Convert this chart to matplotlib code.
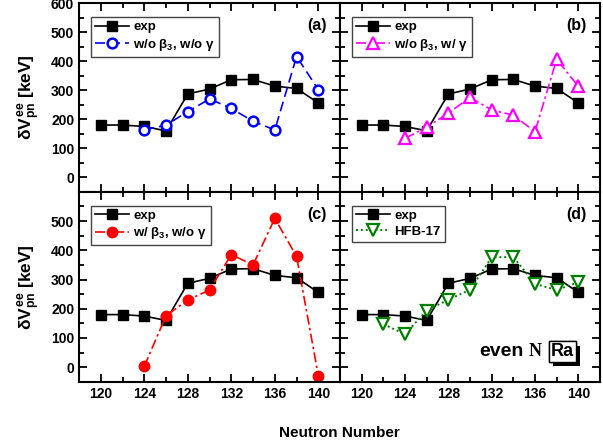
import numpy as np
import matplotlib
matplotlib.use('Agg')
import matplotlib.pyplot as plt
import matplotlib.patheffects as pe
from matplotlib.ticker import MultipleLocator

plt.rcParams['font.family'] = 'Liberation Sans'
plt.rcParams['font.weight'] = 'bold'
plt.rcParams['mathtext.fontset'] = 'custom'
plt.rcParams['mathtext.rm'] = 'Liberation Sans:bold'
plt.rcParams['mathtext.it'] = 'Liberation Sans:bold'
plt.rcParams['mathtext.bf'] = 'Liberation Sans:bold'

# neutron numbers
N_exp = [120, 122, 124, 126, 128, 130, 132, 134, 136, 138, 140]
exp = [180, 180, 175, 160, 287, 304, 336, 337, 314, 306, 256]

N_th = [124, 126, 128, 130, 132, 134, 136, 138, 140]
no_b3_no_g = [163, 180, 226, 270, 237, 193, 163, 416, 302]
no_b3_g = [134, 173, 221, 275, 232, 214, 157, 407, 313]
b3_no_g = [3, 176, 230, 264, 385, 350, 509, 379, -29]

N_hfb = [122, 124, 126, 128, 130, 132, 134, 136, 138, 140]
hfb17 = [147, 113, 194, 231, 265, 376, 377, 285, 264, 291]

fig = plt.figure(figsize=(6.03, 4.44), dpi=100)
L, M, R = 0.131, 0.564, 0.995
B, C, T = 0.140, 0.568, 0.993
axa = fig.add_axes([L, C, M - L, T - C])
axb = fig.add_axes([M, C, R - M, T - C])
axc = fig.add_axes([L, B, M - L, C - B])
axd = fig.add_axes([M, B, R - M, C - B])

ms = 7.5
exp_kw = dict(color='k', marker='s', ms=ms, lw=1.2, label='exp')

axa.plot(N_exp, exp, **exp_kw)
axa.plot(N_th, no_b3_no_g, color='blue', ls=(0, (6, 3)), lw=1.2, marker='o', ms=7,
         mfc='white', mec='blue', mew=1.8, label=r'w/o $\beta_3$, w/o $\gamma$')

axb.plot(N_exp, exp, **exp_kw)
axb.plot(N_th, no_b3_g, color='magenta', ls=(0, (6, 2, 1.5, 2)), lw=1.2, marker='^', ms=8,
         mfc='white', mec='magenta', mew=1.6, label=r'w/o $\beta_3$, w/ $\gamma$')

axc.plot(N_exp, exp, **exp_kw)
axc.plot(N_th, b3_no_g, color='red', ls=(0, (6, 2, 1.5, 2)), lw=1.2, marker='o', ms=7.5,
         mfc='red', mec='red', label=r'w/ $\beta_3$, w/o $\gamma$')

axd.plot(N_exp, exp, **exp_kw)
axd.plot(N_hfb, hfb17, color='green', ls=(0, (1, 1.5)), lw=1.4, marker='v', ms=8,
         mfc='white', mec='green', mew=1.6, label='HFB-17')

for ax, lab in zip([axa, axb, axc, axd], ['(a)', '(b)', '(c)', '(d)']):
    ax.set_xlim(118, 142)
    ax.set_ylim(-50, 600)
    ax.xaxis.set_major_locator(MultipleLocator(4))
    ax.xaxis.set_minor_locator(MultipleLocator(2))
    ax.yaxis.set_major_locator(MultipleLocator(100))
    ax.yaxis.set_minor_locator(MultipleLocator(50))
    ax.tick_params(which='both', direction='in', top=True, right=True, width=1.3,
                   labelsize=10)
    ax.tick_params(which='major', length=6)
    ax.tick_params(which='minor', length=3.5)
    for s in ax.spines.values():
        s.set_linewidth(1.5)
    ax.text(0.95, 0.92, lab, transform=ax.transAxes, ha='right', va='top',
            fontsize=11.5, fontweight='bold')
    leg = ax.legend(loc='upper left', bbox_to_anchor=(0.046, 0.926), fontsize=9.5,
                    handlelength=2.6, handletextpad=0.3, borderpad=0.3,
                    labelspacing=0.25, fancybox=False, framealpha=1,
                    edgecolor='#444444', borderaxespad=0)
    leg.get_frame().set_linewidth(1.0)

for ax in [axa, axb]:
    ax.tick_params(labelbottom=False)
for ax in [axb, axd]:
    ax.tick_params(labelleft=False)
axc.set_yticks([0, 100, 200, 300, 400, 500])

for ax in [axa, axc]:
    ax.set_ylabel(r'$\mathregular{\delta}V^{ee}_{pn}$ [keV]', fontsize=12.5, fontweight='bold',
                  labelpad=6)

fig.text((L + R) / 2, 0.01, 'Neutron Number', ha='center', va='bottom',
         fontsize=11, fontweight='bold')

axd.text(0.535, 0.135, 'even', transform=axd.transAxes, ha='left', va='baseline',
         fontsize=14, fontweight='bold')
axd.text(0.727, 0.135, 'N', transform=axd.transAxes, ha='left', va='baseline',
         fontsize=13, fontweight='bold', family='Liberation Serif')
t = axd.text(0.856, 0.135, 'Ra', transform=axd.transAxes, ha='center', va='baseline',
             fontsize=13, fontweight='bold',
             bbox=dict(boxstyle='square,pad=0.1', fc='white', ec='k', lw=1.0))
t.get_bbox_patch().set_path_effects([pe.withSimplePatchShadow(offset=(3, -3),
                                                              shadow_rgbFace='k', alpha=1),
                                     pe.Normal()])

fig.savefig('out.png', dpi=100)
